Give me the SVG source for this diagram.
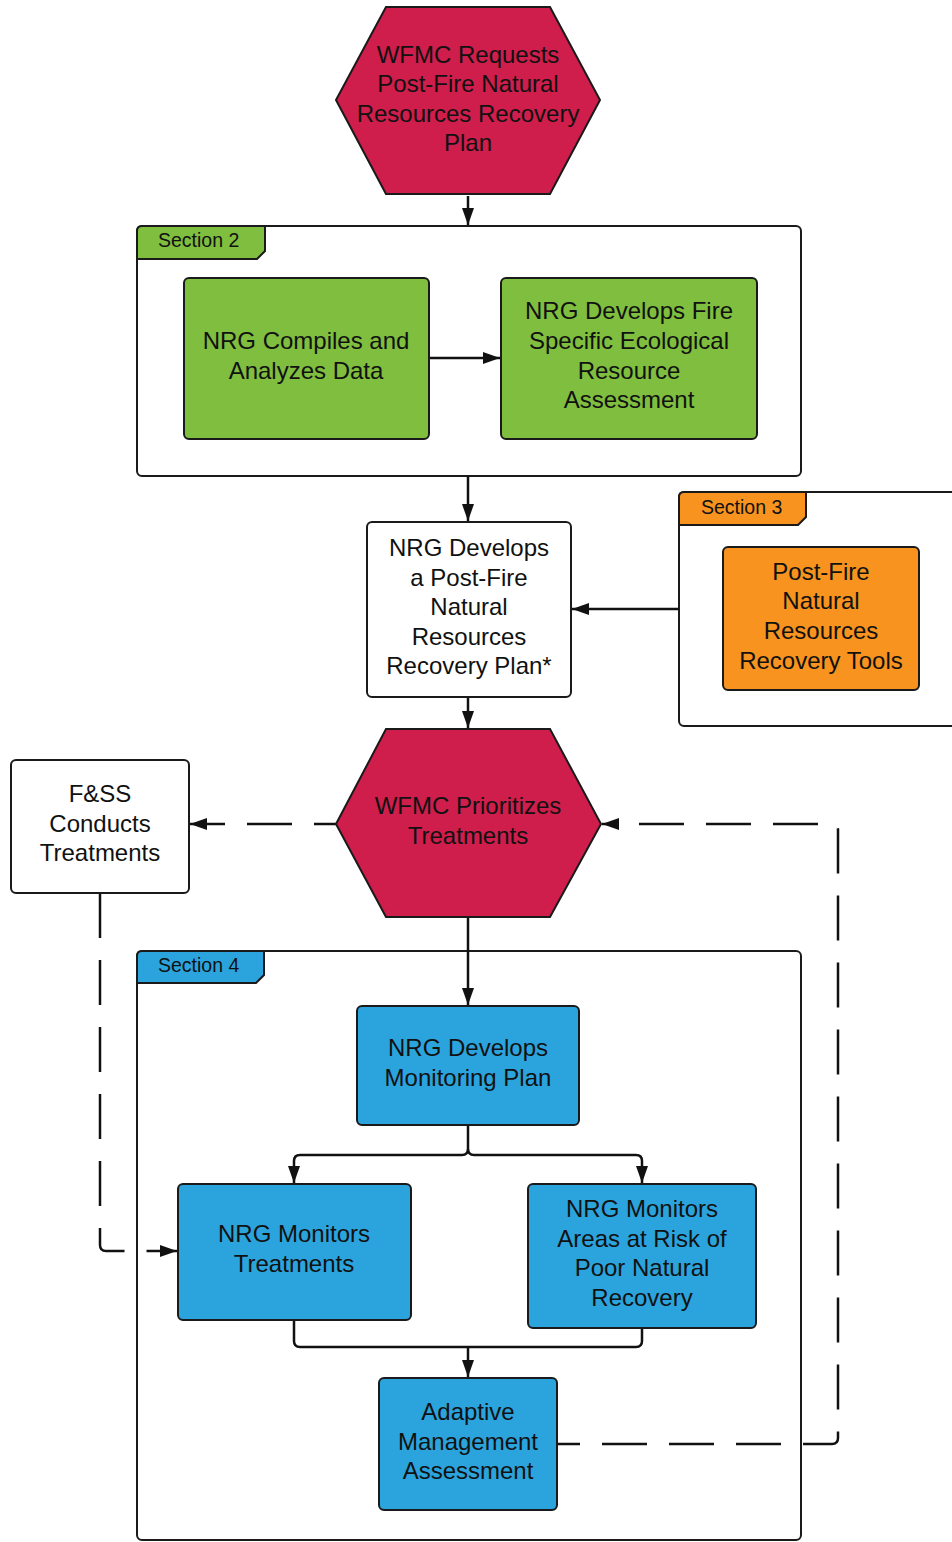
<svg xmlns="http://www.w3.org/2000/svg" width="952" height="1542" viewBox="0 0 952 1542">
<style>
text{font-family:"Liberation Sans",Arial,sans-serif;font-size:24px;fill:#111;text-anchor:middle}
.sec{font-size:19.5px;text-anchor:start}
.box{stroke:#1a1a1a;stroke-width:2}
.cont{fill:#fff;stroke:#1a1a1a;stroke-width:2}
.red{fill:#cf1d4c}
.green{fill:#7fbe3e}
.orange{fill:#f7931e}
.blue{fill:#2ba4dd}
.white{fill:#fff}
.ln{fill:none;stroke:#111;stroke-width:2.5}
.dash{fill:none;stroke:#111;stroke-width:2.5;stroke-dasharray:45 22}
</style>
<defs>
<marker id="ah" markerUnits="userSpaceOnUse" markerWidth="17" markerHeight="14" viewBox="0 0 17 14" refX="17" refY="7" orient="auto">
<path d="M0,1 L17,7 L0,13 Z" fill="#111"/>
</marker>
</defs>

<g id="section2">
<rect class="cont" x="137" y="226" width="664" height="250" rx="5"/>
<path class="box green" d="M137,231 Q137,226 142,226 L265,226 L265,251 L257,259 L137,259 Z"/>
<text class="sec" x="158" y="247">Section 2</text>
</g>
<g id="section3">
<rect class="cont" x="679" y="492" width="300" height="234" rx="5"/>
<path class="box orange" d="M679,497 Q679,492 684,492 L806,492 L806,517 L798,525 L679,525 Z"/>
<text class="sec" x="701" y="514">Section 3</text>
</g>
<g id="section4">
<rect class="cont" x="137" y="951" width="664" height="589" rx="5"/>
<path class="box blue" d="M137,956 Q137,951 142,951 L264,951 L264,975 L256,983 L137,983 Z"/>
<text class="sec" x="158" y="972">Section 4</text>
</g>

<g id="connectors">
<path class="ln" d="M468,196 L468,225" marker-end="url(#ah)"/>
<path class="ln" d="M429,358 L500,358" marker-end="url(#ah)"/>
<path class="ln" d="M468,476 L468,521" marker-end="url(#ah)"/>
<path class="ln" d="M679,609 L572,609" marker-end="url(#ah)"/>
<path class="ln" d="M468,697 L468,728" marker-end="url(#ah)"/>
<path class="dash" d="M336,824 L190,824" marker-end="url(#ah)" style="stroke-dashoffset:23"/>
<path class="dash" d="M100,893 L100,1245 Q100,1251 106,1251 L177,1251" marker-end="url(#ah)"/>
<path class="dash" d="M557,1444 L832,1444 Q838,1444 838,1438 L838,830 Q838,824 832,824 L602,824" marker-end="url(#ah)" style="stroke-dashoffset:22"/>
<path class="ln" d="M468,917 L468,1005" marker-end="url(#ah)"/>
<path class="ln" d="M468,1125 L468,1149 Q468,1155 462,1155 L300,1155 Q294,1155 294,1161 L294,1183" marker-end="url(#ah)"/>
<path class="ln" d="M468,1149 Q468,1155 474,1155 L636,1155 Q642,1155 642,1161 L642,1183" marker-end="url(#ah)"/>
<path class="ln" d="M294,1320 L294,1341 Q294,1347 300,1347 L636,1347 Q642,1347 642,1341 L642,1328"/>
<path class="ln" d="M468,1347 L468,1377" marker-end="url(#ah)"/>
</g>

<g id="wfmc-requests">
<polygon class="box red" points="386,7 550,7 600,100 550,194 386,194 336,100"/>
<text x="468" y="63">WFMC Requests</text>
<text x="468" y="92">Post-Fire Natural</text>
<text x="468" y="122">Resources Recovery</text>
<text x="468" y="151">Plan</text>
</g>
<g id="nrg-compiles">
<rect class="box green" x="184" y="278" width="245" height="161" rx="5"/>
<text x="306" y="349">NRG Compiles and</text>
<text x="306" y="379">Analyzes Data</text>
</g>
<g id="nrg-fire-assessment">
<rect class="box green" x="501" y="278" width="256" height="161" rx="5"/>
<text x="629" y="319">NRG Develops Fire</text>
<text x="629" y="349">Specific Ecological</text>
<text x="629" y="379">Resource</text>
<text x="629" y="408">Assessment</text>
</g>
<g id="nrg-recovery-plan">
<rect class="box white" x="367" y="522" width="204" height="175" rx="5"/>
<text x="469" y="556">NRG Develops</text>
<text x="469" y="586">a Post-Fire</text>
<text x="469" y="615">Natural</text>
<text x="469" y="645">Resources</text>
<text x="469" y="674">Recovery Plan*</text>
</g>
<g id="recovery-tools">
<rect class="box orange" x="723" y="547" width="196" height="143" rx="5"/>
<text x="821" y="580">Post-Fire</text>
<text x="821" y="609">Natural</text>
<text x="821" y="639">Resources</text>
<text x="821" y="669">Recovery Tools</text>
</g>
<g id="wfmc-prioritizes">
<polygon class="box red" points="386,729 550,729 601,824 550,917 386,917 336,824"/>
<text x="468" y="814">WFMC Prioritizes</text>
<text x="468" y="844">Treatments</text>
</g>
<g id="fss-treatments">
<rect class="box white" x="11" y="760" width="178" height="133" rx="5"/>
<text x="100" y="802">F&amp;SS</text>
<text x="100" y="832">Conducts</text>
<text x="100" y="861">Treatments</text>
</g>
<g id="monitoring-plan">
<rect class="box blue" x="357" y="1006" width="222" height="119" rx="5"/>
<text x="468" y="1056">NRG Develops</text>
<text x="468" y="1086">Monitoring Plan</text>
</g>
<g id="monitors-treatments">
<rect class="box blue" x="178" y="1184" width="233" height="136" rx="5"/>
<text x="294" y="1242">NRG Monitors</text>
<text x="294" y="1272">Treatments</text>
</g>
<g id="monitors-risk">
<rect class="box blue" x="528" y="1184" width="228" height="144" rx="5"/>
<text x="642" y="1217">NRG Monitors</text>
<text x="642" y="1247">Areas at Risk of</text>
<text x="642" y="1276">Poor Natural</text>
<text x="642" y="1306">Recovery</text>
</g>
<g id="adaptive-management">
<rect class="box blue" x="379" y="1378" width="178" height="132" rx="5"/>
<text x="468" y="1420">Adaptive</text>
<text x="468" y="1450">Management</text>
<text x="468" y="1479">Assessment</text>
</g>
</svg>
